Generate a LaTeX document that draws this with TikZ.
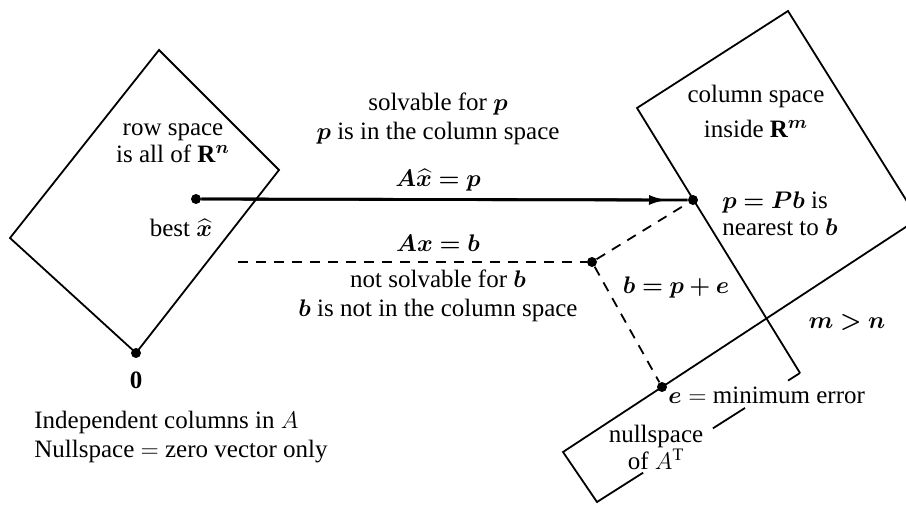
\documentclass[tikz,border=0pt]{standalone}
\usepackage{amsmath}
\usepackage{bm}
\usepackage{fontspec}
\setmainfont{Liberation Serif}
\usetikzlibrary{arrows.meta,calc}

\begin{document}
\begin{tikzpicture}[x=0.5pt,y=-0.5pt, >=Latex, font=\fontsize{12.5}{13.5}\selectfont,
  dot/.style={circle,fill,inner sep=0pt,minimum size=5pt},
  edge/.style={line width=0.9pt,line join=miter},
  dsh/.style={line width=0.9pt,dash pattern=on 5pt off 4pt},
  lbl/.style={inner sep=1pt,align=center}]
  \useasboundingbox (0,0) rectangle (906,504);
  \clip (0,0) rectangle (906,504);
  % points
  \node[dot](xhat) at (196,199){};
  \node[dot](zero) at (136,353){};
  \node[dot](p) at (693,200){};
  \node[dot](b) at (592,262){};
  \node[dot](e) at (662,387){};
  % row space
  \draw[edge] (159,50) -- (279,170) -- (zero.center) -- (10,238) -- cycle;
  % column space and nullspace of A^T
  \coordinate(T) at (788,11); \coordinate(L) at (637,108); \coordinate(Q) at (800,373);
  \coordinate(R) at (918,219); \coordinate(N1) at (563,452); \coordinate(N2) at (597,502);
  \draw[edge] (Q) -- (L) -- (T) -- (R) -- (N1) -- (N2) -- ($(N2)!0.227!(Q)$);
  \draw[edge] ($(N2)!0.571!(Q)$) -- ($(N2)!0.729!(Q)$);
  \draw[edge] ($(N2)!0.941!(Q)$) -- (Q);
  % A xhat = p and A x = b
  \coordinate(tip) at ($(p)+(-26,0)$);
  \draw[line width=1.4pt] (xhat) -- (p);
  \draw[line width=1.4pt,-{Latex[length=9pt,width=5pt]}] (xhat) -- (tip);
  \coordinate(start) at (238,262);
  \draw[dsh] (start) -- (b);
  \draw[dsh] (b) -- (p);
  \draw[dsh] (b) -- (e);
  % labels
  \node[lbl] (rowlbl) at (173,143) {row space\\is all of $\mathbf{R}^{\bm n}$};
  \node[lbl] (bestlbl) at (181,228) {best $\widehat{\bm x}$};
  \node[lbl] (zerolbl) at (136,380) {$\mathbf{0}$};
  \node[lbl] (solvlbl) at (438,119) {solvable for $\bm p$\\[1pt]$\bm p$ is in the column space};
  \node[lbl] (eqp) at (438,180) {$\bm{A\widehat{x} = p}$};
  \node[lbl] (eqb) at (438,243) {$\bm{Ax = b}$};
  \node[lbl] (nsolvlbl) at (438,296) {not solvable for $\bm b$\\[1pt]$\bm b$ is not in the column space};
  \node[lbl] (collbl) at (756,111) {column space\\[4pt]inside $\mathbf{R}^{\bm m}$};
  \node[lbl,anchor=west,align=left] (plbl) at (720,214) {$\bm{p = Pb}$ is\\nearest to $\bm b$};
  \node[lbl] (bpe) at (676,287) {$\bm{b = p + e}$};
  \node[lbl] (mn) at (847,322) {$\bm{m > n}$};
  \node[lbl,anchor=west] (elbl) at (666,395) {$\bm{e} =$ minimum error};
  \node[lbl] (nulllbl) at (656,447) {nullspace\\of $A^{\mathrm{T}}$};
  \node[lbl,anchor=west,align=left] (indlbl) at (32,437) {Independent columns in $A$\\[1pt]Nullspace $=$ zero vector only};
\end{tikzpicture}
\end{document}
